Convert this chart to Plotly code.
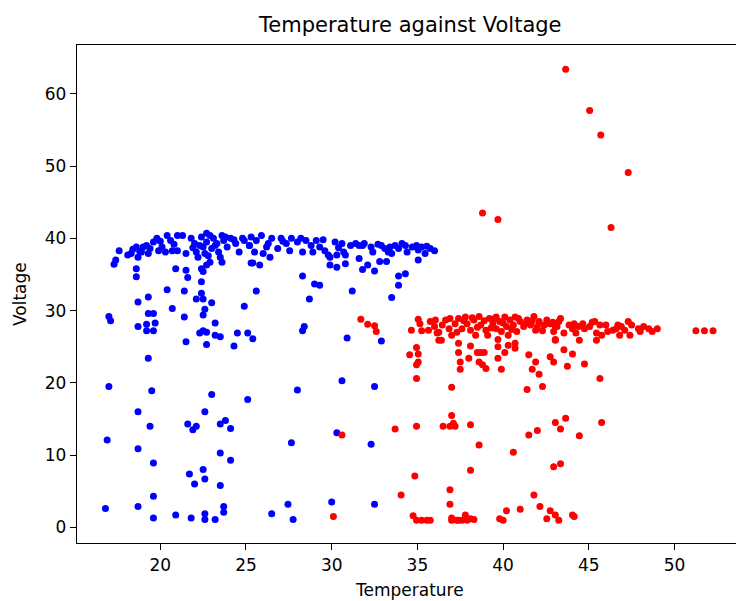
import plotly.graph_objects as go

blue_temperature = [
    17.3, 17.4, 17.6, 18.1, 18.3, 18.6, 18.7, 18.9, 19.0, 19.2, 19.3, 19.4, 19.6, 19.8, 19.9, 20.1, 20.3, 20.4, 20.6, 20.7,
    21.0, 21.0, 21.3, 21.5, 21.8, 22.0, 22.1, 22.2, 22.4, 22.5, 22.6, 22.7, 22.9, 23.0, 23.1, 23.3, 23.4, 23.6, 23.7, 23.9,
    24.1, 24.4, 24.6, 24.9, 25.2, 25.3,
    18.6, 18.6, 20.9, 21.5, 21.6, 22.4, 22.5, 22.4, 23.5, 23.6, 22.9, 22.7, 25.4, 20.4, 21.4, 19.3, 18.7, 22.4, 22.1, 22.5,
    23.0, 20.7, 22.6, 24.9, 25.6,
    17.0, 17.1, 19.3, 19.6, 22.5, 21.4, 18.7, 19.2, 19.7, 19.2, 19.6, 23.2, 22.3, 22.5, 22.7, 23.2, 23.5, 24.5, 25.1, 25.4,
    21.5, 22.7, 24.3, 19.3, 17.0, 19.5, 23.0, 25.1, 18.7, 22.6, 19.4, 21.6, 21.9, 22.1, 23.5, 23.8, 24.1, 16.9, 18.7, 19.6,
    23.5, 24.1, 21.7, 22.5, 22.0, 22.6, 23.5, 19.6, 16.8, 18.7, 23.7, 23.7, 19.6, 20.9, 21.8, 22.6, 22.6, 23.2,
    25.2, 25.5, 25.6, 25.9, 26.0, 26.2, 26.4, 26.5, 26.85, 27.05, 27.35, 27.55, 27.65, 28.0, 28.3, 28.5, 28.8, 28.9, 29.1, 29.3,
    29.6, 29.8, 29.9, 30.2, 30.3, 30.6, 30.7, 30.8, 31.1, 31.4, 31.6, 31.8, 32.3, 32.4, 32.9, 33.1, 33.3, 33.4, 33.5, 33.7,
    33.9, 34.3, 34.4, 34.7, 35.05, 35.25, 35.45, 35.75, 36.0,
    25.3, 25.8, 29.9, 30.3, 30.8, 31.6, 31.8, 32.1, 32.5, 32.8, 33.2, 35.05, 28.3, 29.0, 29.3, 33.9, 34.3, 33.9, 31.2, 28.7,
    33.5,
    28.4, 28.3, 30.9, 32.9, 30.6, 28.0, 32.5, 30.3, 27.65, 32.3, 27.45, 26.5, 27.75, 30.0, 32.5,
    22.3, 22.7, 22.8, 23.2, 21.9, 20.8, 20.0, 18.8, 18.4, 23.8, 24.3, 24.8, 26.3, 27.15, 28.2, 29.5, 30.4, 31.9, 32.7, 34.1,
    34.95, 35.55,
]
blue_voltage = [
    36.4, 37.0, 38.3, 37.7, 37.9, 38.8, 37.4, 38.1, 38.8, 39.0, 37.9, 38.6, 39.5, 40.0, 38.3, 38.8, 38.1, 40.4, 39.7, 38.3,
    40.4, 38.3, 40.4, 37.9, 40.0, 39.3, 38.1, 37.4, 40.2, 38.8, 37.9, 39.5, 40.4, 38.6, 40.0, 39.3, 38.1, 40.4, 39.7, 38.8,
    40.0, 39.3, 38.1, 39.7, 39.0, 40.2,
    35.8, 34.7, 35.8, 35.6, 34.6, 35.8, 35.4, 34.0, 37.4, 36.7, 36.7, 36.3, 36.6, 32.9, 32.7, 31.9, 31.2, 32.4, 31.6, 31.6,
    31.1, 30.3, 30.2, 30.6, 32.7,
    29.2, 28.6, 29.6, 29.6, 29.4, 29.1, 27.8, 28.1, 28.3, 27.2, 27.2, 28.3, 26.9, 27.2, 27.0, 26.6, 26.4, 26.9, 26.9, 26.1,
    25.7, 25.3, 25.1, 23.4, 19.5, 18.9, 18.4, 17.7, 16.0, 16.0, 14.0, 14.3, 13.5, 14.0, 14.3, 14.8, 13.7, 12.1, 10.9, 8.9,
    10.3, 9.3, 7.4, 8.0, 6.0, 6.7, 5.8, 4.3, 2.6, 2.9, 2.9, 2.1, 1.3, 1.7, 1.3, 1.9, 1.1, 1.1,
    39.0, 38.1, 39.7, 40.4, 37.9, 38.8, 37.4, 40.0, 38.6, 40.0, 39.3, 38.3, 40.0, 39.5, 38.1, 39.7, 39.0, 38.1, 39.7, 38.8,
    38.3, 37.7, 37.4, 39.5, 37.7, 39.3, 38.1, 37.7, 39.0, 39.3, 39.0, 39.0, 38.8, 38.1, 39.0, 38.6, 38.1, 38.8, 37.9, 39.0,
    38.6, 39.0, 38.1, 38.8, 38.4, 38.8, 37.9, 38.6, 38.3,
    36.6, 36.3, 36.3, 36.0, 36.5, 37.2, 35.7, 36.3, 35.5, 36.8, 36.8, 37.0, 34.8, 33.7, 33.5, 34.8, 35.1, 33.5, 32.7, 31.6,
    31.8,
    27.8, 27.2, 26.2, 25.8, 20.3, 19.0, 19.5, 13.1, 11.7, 11.5, 3.2, 1.9, 1.1, 3.5, 3.2,
    39.0, 40.7, 37.6, 39.0, 38.7, 39.2, 39.6, 38.2, 38.5, 40.2, 39.8, 40.0, 39.3, 39.6, 40.0, 39.8, 38.7, 39.3, 39.2, 39.3,
    39.0, 38.9,
]

red_temperature = [
    31.7, 32.1, 32.5, 32.6, 34.65, 35.05, 35.15, 35.25, 35.75, 36.05, 35.65, 36.15, 36.25, 34.95, 35.05, 34.55, 35.05, 34.95,
    34.95, 30.6, 33.7, 34.95, 34.85, 34.05, 30.1, 34.75, 34.95, 35.25, 35.55, 35.75,
    36.25, 36.45, 36.65, 36.85, 37.0, 37.2, 37.4, 37.6, 37.8, 37.9, 38.1, 38.3, 38.4, 38.6, 38.7, 39.0, 39.1, 39.2, 39.4, 39.6,
    39.6, 39.8, 39.9, 40.1, 40.2, 40.3, 40.4, 40.6, 40.7, 40.8, 41.0, 41.2, 41.4, 41.6, 41.8, 41.9, 42.1, 42.4, 42.55, 42.75,
    43.05, 43.25, 43.05,
    36.4, 37.4, 37.4, 37.5, 37.5, 38.1, 38.0, 38.5, 38.7, 38.9, 38.6, 38.8, 39.0, 39.7, 39.7, 39.7, 39.9, 40.1, 40.3, 40.7,
    40.7, 37.0, 41.5, 41.9, 41.7, 42.1, 42.75, 42.95, 41.4, 42.3,
    42.75, 42.95, 43.15, 43.35, 43.05, 43.55, 43.85, 44.05, 44.15, 44.25, 44.45, 44.65, 44.75, 45.05, 45.35, 45.45, 45.65,
    45.75, 45.45, 46.1, 46.4, 46.6, 46.7, 46.8, 46.9, 47.1, 47.3, 47.4, 47.5, 47.9, 48.0, 48.2, 48.5, 48.7, 49.0, 51.25,
    51.75, 52.25,
    43.55, 44.05, 43.75, 44.75, 45.65,
    36.5, 36.9, 37.0, 37.1, 37.2, 38.1, 38.6, 38.1, 36.9, 36.9, 37.0, 37.0, 37.3, 37.4, 37.6, 37.8, 37.9, 38.1, 38.3, 39.8,
    40.0, 40.2, 41.0, 40.6, 41.5, 42.0, 43.05, 43.35, 42.95, 43.35, 41.8, 42.15, 42.75, 42.55, 43.05, 43.25,
    43.65, 44.45, 45.75, 44.05, 44.15,
    43.65, 45.05, 45.7, 47.3, 38.8, 39.7, 46.3,
    36.0, 36.9, 37.3, 37.7, 38.2, 38.5, 38.9, 39.3, 39.5, 40.0, 40.5, 40.9, 41.3, 41.7, 42.0, 42.3, 42.9, 44.4, 45.2, 46.0,
]
red_voltage = [
    28.8, 28.1, 27.9, 27.1, 27.3, 28.8, 28.2, 27.2, 28.5, 28.7, 27.3, 26.9, 25.9, 24.9, 24.0, 23.9, 22.9, 22.5,
    20.6, 12.8, 13.6, 14.0, 7.1, 4.5, 1.5, 1.6, 1.0, 1.0, 1.0, 1.0,
    27.0, 28.0, 28.7, 27.5, 26.6, 28.2, 28.9, 27.5, 29.1, 28.2, 27.3, 28.7, 26.6, 29.2, 28.0, 27.3, 26.6, 28.9, 28.2, 29.1,
    27.5, 28.5, 27.1, 29.1, 27.8, 26.6, 28.7, 28.0, 29.1, 27.1, 28.5, 27.8, 28.7, 28.0, 29.2, 27.3, 28.5, 28.0, 28.7, 28.2,
    27.8, 28.5, 26.0,
    25.9, 25.5, 24.2, 22.9, 21.9, 25.1, 23.4, 24.2, 24.2, 24.2, 22.9, 22.5, 22.0, 26.0, 25.0, 23.4, 21.9, 24.2, 25.2, 25.5,
    24.8, 19.4, 23.9, 22.9, 21.9, 21.2, 23.6, 22.9, 19.1, 19.5,
    28.2, 27.1, 27.8, 28.9, 25.9, 26.9, 28.0, 27.5, 28.2, 26.9, 25.9, 28.2, 27.5, 27.8, 28.5, 26.9, 28.0,
    26.6, 25.9, 27.1, 27.3, 27.5, 28.0, 26.6, 27.8, 27.3, 28.5, 26.6, 28.0, 27.5, 27.1, 27.8, 27.5, 27.1, 27.5, 27.2,
    27.2, 27.2,
    24.6, 24.0, 22.3, 22.6, 20.6,
    14.0, 14.0, 15.5, 14.4, 14.0, 14.2, 11.4, 7.9, 5.2, 3.2, 1.3, 1.0, 1.0, 1.0, 1.0, 1.7, 1.0, 1.2, 1.1, 1.2,
    1.0, 2.3, 2.5, 10.4, 12.8, 13.4, 14.5, 13.6, 8.4, 8.8, 4.5, 2.9, 2.3, 1.2, 1.7, 1.0,
    15.1, 12.7, 14.5, 1.7, 1.5,
    63.4, 57.7, 54.3, 49.1, 43.5, 42.6, 41.5,
    27.8, 28.9, 27.0, 28.6, 29.0, 27.7, 28.6, 27.6, 28.9, 28.3, 27.4, 28.9, 28.2, 28.6, 27.8, 27.2, 28.4, 27.8, 28.4, 28.0,
]

x_ticks = [20, 25, 30, 35, 40, 45, 50]
y_ticks = [0, 10, 20, 30, 40, 50, 60]

FONT = "DejaVu Sans"

fig = go.Figure()
fig.add_trace(go.Scatter(x=blue_temperature, y=blue_voltage, mode="markers",
                         marker=dict(color="blue", size=7, line=dict(width=0)),
                         showlegend=False))
fig.add_trace(go.Scatter(x=red_temperature, y=red_voltage, mode="markers",
                         marker=dict(color="red", size=7, line=dict(width=0)),
                         showlegend=False))

axis_common = dict(showgrid=False, zeroline=False, showline=True, linecolor="black",
                   linewidth=1.3, ticks="outside", ticklen=6, tickwidth=1.3, tickcolor="black",
                   tickfont=dict(family=FONT, size=17, color="black"))

fig.update_layout(
    width=736, height=601,
    margin=dict(l=77, r=0, t=45, b=58),
    plot_bgcolor="white", paper_bgcolor="white",
    xaxis=dict(range=[15.14, 53.59], tickvals=x_ticks, mirror=True, **axis_common),
    yaxis=dict(range=[-2.16, 66.76], tickvals=y_ticks, mirror=False, **axis_common),
    annotations=[
        dict(text="Temperature against Voltage", xref="paper", yref="paper", x=0.5053, y=1.040,
             xanchor="center", yanchor="middle", showarrow=False,
             font=dict(family=FONT, size=21, color="black")),
        dict(text="Temperature", xref="paper", yref="paper", x=0.5053, y=-0.0944,
             xanchor="center", yanchor="middle", showarrow=False,
             font=dict(family=FONT, size=17, color="black")),
        dict(text="Voltage", xref="paper", yref="paper", x=-0.0865, y=0.5,
             xanchor="center", yanchor="middle", textangle=-90, showarrow=False,
             font=dict(family=FONT, size=17, color="black")),
    ],
)

fig.write_html("out.html", config={"displayModeBar": False},
               post_script="document.body.style.margin='0';document.body.style.padding='0';")
